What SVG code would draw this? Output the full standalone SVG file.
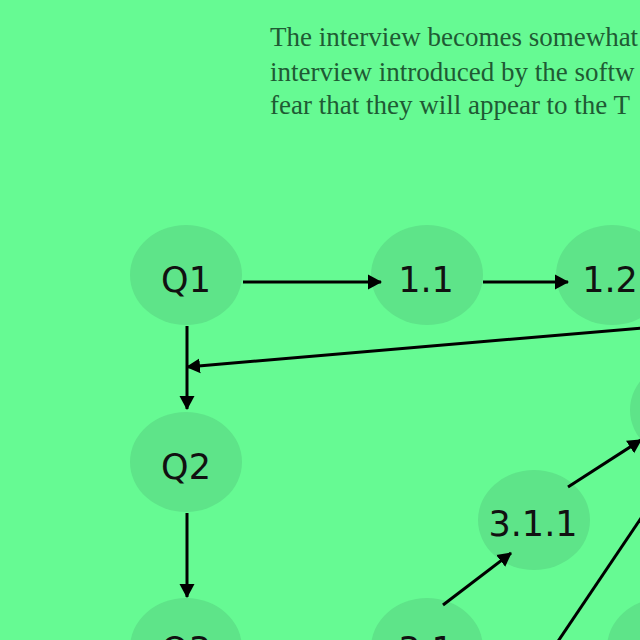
<svg xmlns="http://www.w3.org/2000/svg" width="640" height="640" viewBox="0 0 640 640">
<style>
.bg{fill:#66fa93}
.node{fill:#5ee489}
.lbl{font-family:"DejaVu Sans",sans-serif;font-size:35px;fill:#111;text-anchor:middle}
.para{font-family:"Liberation Serif",serif;font-size:27px;fill:#1f5a34}
.edge{stroke:#000;stroke-width:3;fill:none;marker-end:url(#arr)}
</style>
<defs>
<marker id="arr" markerUnits="userSpaceOnUse" markerWidth="15" markerHeight="18" refX="13" refY="9" orient="auto" viewBox="0 0 15 18">
<path d="M0,1.5 L14,9 L0,16.5 z" fill="#000"/>
</marker>
</defs>
<rect class="bg" x="0" y="0" width="640" height="640"/>
<g id="paragraph">
<text class="para" x="270" y="46">The interview becomes somewhat</text>
<text class="para" x="270" y="81">interview introduced by the softw</text>
<text class="para" x="270" y="114">fear that they will appear to the T</text>
</g>
<g id="nodes">
<g id="n-Q1"><ellipse class="node" cx="186" cy="275" rx="56" ry="50"/><text class="lbl" x="186" y="292">Q1</text></g>
<g id="n-1.1"><ellipse class="node" cx="427" cy="275" rx="56" ry="50"/><text class="lbl" x="426" y="292">1.1</text></g>
<g id="n-1.2"><ellipse class="node" cx="612" cy="275" rx="56" ry="50"/><text class="lbl" x="610" y="292">1.2</text></g>
<g id="n-Q2"><ellipse class="node" cx="186" cy="462" rx="56" ry="50"/><text class="lbl" x="186" y="479">Q2</text></g>
<g id="n-3.1.1"><ellipse class="node" cx="534" cy="520" rx="56" ry="50"/><text class="lbl" x="533" y="536">3.1.1</text></g>
<g id="n-right"><ellipse class="node" cx="686" cy="410" rx="56" ry="50"/></g>
<g id="n-Q3"><ellipse class="node" cx="186" cy="648" rx="56" ry="50"/><text class="lbl" x="186" y="662">Q3</text></g>
<g id="n-3.1"><ellipse class="node" cx="427" cy="648" rx="56" ry="50"/><text class="lbl" x="426" y="662">3.1</text></g>
<g id="n-bottomright"><ellipse class="node" cx="663" cy="648" rx="56" ry="50"/></g>
</g>
<g id="connectors">
<line class="edge" x1="243" y1="282" x2="381" y2="282"/>
<line class="edge" x1="483" y1="282" x2="568" y2="282"/>
<line class="edge" x1="187" y1="326" x2="187" y2="409"/>
<line class="edge" x1="700" y1="323" x2="187" y2="367"/>
<line class="edge" x1="187" y1="513" x2="187" y2="597"/>
<line class="edge" x1="443" y1="605" x2="511" y2="553"/>
<line class="edge" x1="568" y1="487" x2="641" y2="440"/>
<line class="edge" x1="660" y1="490" x2="540" y2="668"/>
</g>
</svg>
